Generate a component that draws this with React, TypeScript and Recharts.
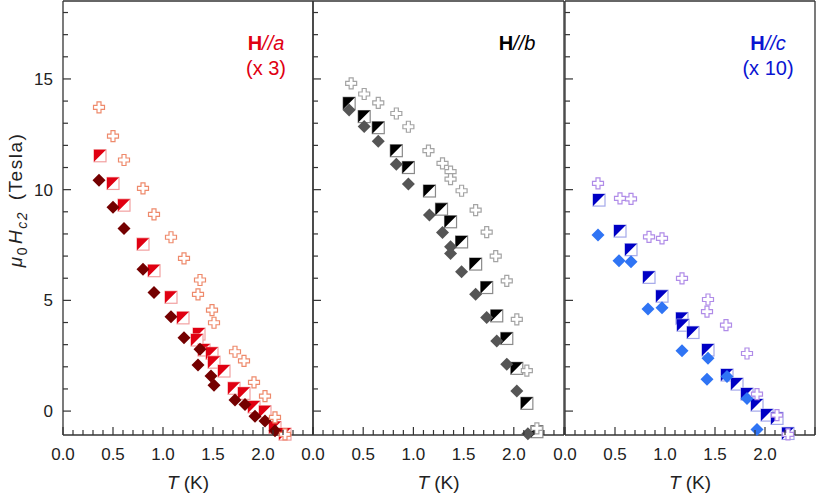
import React from 'react';
import { ScatterChart, Scatter, XAxis, YAxis, Label } from 'recharts';

// Upper critical field vs temperature, three field directions.
// h is read in the units of the printed tick labels.

type Pt = { t: number; h: number };

// ---- H // a (values shown x 3) ----
const A_CROSS: Pt[] = [
  { t: 0.36, h: 13.72 }, { t: 0.5, h: 12.42 }, { t: 0.61, h: 11.34 }, { t: 0.8, h: 10.06 },
  { t: 0.91, h: 8.88 }, { t: 1.08, h: 7.85 }, { t: 1.21, h: 6.9 }, { t: 1.37, h: 5.92 },
  { t: 1.35, h: 5.27 }, { t: 1.49, h: 4.56 }, { t: 1.51, h: 3.99 }, { t: 1.72, h: 2.68 },
  { t: 1.81, h: 2.27 }, { t: 1.91, h: 1.3 }, { t: 2.02, h: 0.68 }, { t: 2.12, h: -0.28 },
  { t: 2.22, h: -1.05 },
];
const A_SQUARE: Pt[] = [
  { t: 0.37, h: 11.53 }, { t: 0.5, h: 10.28 }, { t: 0.61, h: 9.3 }, { t: 0.8, h: 7.54 },
  { t: 0.91, h: 6.34 }, { t: 1.08, h: 5.14 }, { t: 1.2, h: 4.21 }, { t: 1.36, h: 3.48 },
  { t: 1.34, h: 3.21 }, { t: 1.41, h: 2.76 }, { t: 1.49, h: 2.61 }, { t: 1.51, h: 2.21 },
  { t: 1.61, h: 1.81 }, { t: 1.71, h: 1.03 }, { t: 1.81, h: 0.8 }, { t: 1.91, h: 0.19 },
  { t: 2.02, h: -0.03 }, { t: 2.12, h: -0.74 }, { t: 2.22, h: -1.04 },
];
const A_DIAMOND: Pt[] = [
  { t: 0.36, h: 10.43 }, { t: 0.5, h: 9.2 }, { t: 0.61, h: 8.25 }, { t: 0.8, h: 6.4 },
  { t: 0.91, h: 5.36 }, { t: 1.08, h: 4.26 }, { t: 1.21, h: 3.31 }, { t: 1.37, h: 2.79 },
  { t: 1.35, h: 2.08 }, { t: 1.48, h: 1.58 }, { t: 1.51, h: 1.17 }, { t: 1.72, h: 0.5 },
  { t: 1.82, h: 0.3 }, { t: 1.92, h: -0.23 }, { t: 2.02, h: -0.45 }, { t: 2.12, h: -0.89 },
];

// ---- H // b ----
const B_CROSS: Pt[] = [
  { t: 0.38, h: 14.8 }, { t: 0.51, h: 14.32 }, { t: 0.65, h: 13.92 }, { t: 0.83, h: 13.44 },
  { t: 0.95, h: 12.84 }, { t: 1.15, h: 11.76 }, { t: 1.29, h: 11.19 }, { t: 1.37, h: 10.81 },
  { t: 1.37, h: 10.48 }, { t: 1.48, h: 9.95 }, { t: 1.62, h: 9.08 }, { t: 1.73, h: 8.08 },
  { t: 1.82, h: 7.0 }, { t: 1.93, h: 5.88 }, { t: 2.03, h: 4.14 }, { t: 2.13, h: 1.83 },
  { t: 2.23, h: -0.78 },
];
const B_SQUARE: Pt[] = [
  { t: 0.36, h: 13.9 }, { t: 0.51, h: 13.3 }, { t: 0.65, h: 12.8 }, { t: 0.83, h: 11.76 },
  { t: 0.95, h: 11.0 }, { t: 1.16, h: 9.94 }, { t: 1.28, h: 9.12 }, { t: 1.37, h: 8.55 },
  { t: 1.48, h: 7.64 }, { t: 1.62, h: 6.64 }, { t: 1.73, h: 5.58 }, { t: 1.83, h: 4.3 },
  { t: 1.93, h: 3.28 }, { t: 2.03, h: 1.93 }, { t: 2.13, h: 0.35 }, { t: 2.23, h: -0.93 },
];
const B_DIAMOND: Pt[] = [
  { t: 0.36, h: 13.6 }, { t: 0.51, h: 12.85 }, { t: 0.65, h: 12.19 }, { t: 0.83, h: 11.15 },
  { t: 0.95, h: 10.25 }, { t: 1.16, h: 8.85 }, { t: 1.29, h: 8.07 }, { t: 1.37, h: 7.42 },
  { t: 1.37, h: 7.12 }, { t: 1.48, h: 6.29 }, { t: 1.62, h: 5.28 }, { t: 1.73, h: 4.23 },
  { t: 1.83, h: 3.16 }, { t: 1.93, h: 2.12 }, { t: 2.03, h: 0.91 }, { t: 2.14, h: -1.02 },
];

// ---- H // c (values shown x 10) ----
const C_CROSS: Pt[] = [
  { t: 0.33, h: 10.28 }, { t: 0.55, h: 9.61 }, { t: 0.66, h: 9.58 }, { t: 0.84, h: 7.87 },
  { t: 0.97, h: 7.8 }, { t: 1.17, h: 5.99 }, { t: 1.43, h: 5.04 }, { t: 1.42, h: 4.49 },
  { t: 1.61, h: 3.88 }, { t: 1.82, h: 2.6 }, { t: 1.92, h: 0.77 }, { t: 2.12, h: -0.18 },
  { t: 2.23, h: -1.05 },
];
const C_SQUARE: Pt[] = [
  { t: 0.34, h: 9.53 }, { t: 0.55, h: 8.13 }, { t: 0.66, h: 7.29 }, { t: 0.84, h: 6.04 },
  { t: 0.97, h: 5.19 }, { t: 1.17, h: 4.18 }, { t: 1.18, h: 3.88 }, { t: 1.28, h: 3.55 },
  { t: 1.43, h: 2.76 }, { t: 1.62, h: 1.63 }, { t: 1.72, h: 1.22 }, { t: 1.82, h: 0.77 },
  { t: 1.92, h: 0.27 }, { t: 2.02, h: -0.18 }, { t: 2.12, h: -0.33 }, { t: 2.23, h: -1.01 },
];
const C_DIAMOND: Pt[] = [
  { t: 0.33, h: 7.95 }, { t: 0.54, h: 6.79 }, { t: 0.66, h: 6.74 }, { t: 0.83, h: 4.61 },
  { t: 0.97, h: 4.67 }, { t: 1.17, h: 2.73 }, { t: 1.43, h: 2.39 }, { t: 1.42, h: 1.44 },
  { t: 1.62, h: 1.56 }, { t: 1.82, h: 0.57 }, { t: 1.92, h: -0.83 },
];

// axes
const X_DOMAIN: [number, number] = [0, 2.5];
const Y_DOMAIN: [number, number] = [-1.08, 18.52];
const X_LABELS = [0, 0.5, 1, 1.5, 2];
const Y_LABELS = [0, 5, 10, 15];
const X_TICKS = Array.from({ length: 26 }, (_, i) => i / 10);
const Y_TICKS = Array.from({ length: 19 }, (_, i) => i);

const FONT = '"Liberation Sans", Arial, Helvetica, sans-serif';
const AXIS = '#333';

const isMajorX = (v: number) => Math.abs(v * 2 - Math.round(v * 2)) < 1e-6;

// ---- markers ----
const Cross = ({ cx, cy, color }: any) => {
  const h = 5.5;
  const a = 2;
  const d = `M${cx - a},${cy - h}H${cx + a}V${cy - a}H${cx + h}V${cy + a}H${cx + a}V${cy + h}H${cx - a}V${cy + a}H${cx - h}V${cy - a}H${cx - a}Z`;
  return <path d={d} fill="#fff" stroke={color} strokeWidth={1.2} />;
};

const HalfSquare = ({ cx, cy, dark, light }: any) => {
  const s = 6;
  return (
    <g>
      <rect x={cx - s} y={cy - s} width={2 * s} height={2 * s} fill="#fff" stroke={light} strokeWidth={1.2} />
      <path d={`M${cx - s},${cy - s}H${cx + s}L${cx - s},${cy + s}Z`} fill={dark} />
    </g>
  );
};

const Diamond = ({ cx, cy, color }: any) => {
  const r = 6.5;
  return <path d={`M${cx},${cy - r}L${cx + r},${cy}L${cx},${cy + r}L${cx - r},${cy}Z`} fill={color} />;
};

// ---- tick renderers (ticks point into the plot) ----
const leftTick = (showLabel: boolean) => (p: any) => {
  const v = p.payload.value;
  const major = Y_LABELS.includes(v);
  return (
    <g>
      <line x1={p.x} x2={p.x + (major ? 8 : 5)} y1={p.y} y2={p.y} stroke={AXIS} strokeWidth={1.2} />
      {showLabel && major && (
        <text x={p.x - 10} y={p.y + 6} textAnchor="end" fontSize={17} fontFamily={FONT} fill="#222">
          {v}
        </text>
      )}
    </g>
  );
};

const rightTick = (p: any) => {
  const major = Y_LABELS.includes(p.payload.value);
  return <line x1={p.x} x2={p.x - (major ? 8 : 5)} y1={p.y} y2={p.y} stroke={AXIS} strokeWidth={1.2} />;
};

const bottomTick = (p: any) => {
  const v = p.payload.value;
  const major = isMajorX(v);
  const lab = X_LABELS.some((l) => Math.abs(l - v) < 1e-6);
  return (
    <g>
      <line x1={p.x} x2={p.x} y1={p.y} y2={p.y - (major ? 8 : 5)} stroke={AXIS} strokeWidth={1.2} />
      {lab && (
        <text x={p.x} y={p.y + 25} textAnchor="middle" fontSize={17} fontFamily={FONT} fill="#222">
          {v.toFixed(1)}
        </text>
      )}
    </g>
  );
};

const topTick = (p: any) => {
  const major = isMajorX(p.payload.value);
  return <line x1={p.x} x2={p.x} y1={p.y} y2={p.y + (major ? 8 : 5)} stroke={AXIS} strokeWidth={1.2} />;
};

// ---- titles ----
const xTitle = (props: any) => {
  const { x, y, width } = props.viewBox;
  return (
    <text x={x + width / 2} y={y + 54} textAnchor="middle" fontSize={19} fontFamily={FONT} fill="#222">
      <tspan fontStyle="italic">T</tspan>
      <tspan> (K)</tspan>
    </text>
  );
};

const yTitle = () => (
  <text
    transform="translate(22,200) rotate(-90)"
    textAnchor="middle"
    fontSize={19}
    fontFamily={FONT}
    letterSpacing={1.5}
    fill="#222"
  >
    <tspan fontStyle="italic">μ</tspan>
    <tspan fontSize={14} dy={5}>0</tspan>
    <tspan fontStyle="italic" dy={-5} dx={2}>H</tspan>
    <tspan fontStyle="italic" fontSize={14} dy={5}>c2</tspan>
    <tspan dy={-5} dx={4}> (Tesla)</tspan>
  </text>
);

const panelTitle = (axis: string, factor: string | null, color: string) => (props: any) => {
  const { x, y, width } = props.viewBox;
  const cx = x + width - 47;
  return (
    <g fontFamily={FONT} fontSize={20} fill={color}>
      <text x={cx} y={y + 50} textAnchor="middle">
        <tspan fontWeight="bold">H</tspan>
        <tspan fontStyle="italic">//{axis}</tspan>
      </text>
      {factor && (
        <text x={cx} y={y + 75} textAnchor="middle">
          {factor}
        </text>
      )}
    </g>
  );
};

interface PanelProps {
  left: number;
  width: number;
  margin: { top: number; right: number; bottom: number; left: number };
  cross: Pt[];
  square: Pt[];
  diamond: Pt[];
  colors: { cross: string; dark: string; light: string; diamond: string };
  axisName: string;
  factor: string | null;
  titleColor: string;
  first?: boolean;
}

const Panel = (p: PanelProps) => (
  <div style={{ position: 'absolute', left: p.left, top: 0 }}>
    <ScatterChart width={p.width} height={495} margin={p.margin}>
      <XAxis
        xAxisId="b"
        type="number"
        dataKey="t"
        domain={X_DOMAIN}
        ticks={X_TICKS}
        interval={0}
        height={1}
        tickSize={0}
        tickMargin={0}
        tickLine={false}
        tick={bottomTick}
        axisLine={{ stroke: AXIS, strokeWidth: 1.3 }}
      >
        <Label content={xTitle} />
      </XAxis>
      <XAxis
        xAxisId="t"
        orientation="top"
        type="number"
        domain={X_DOMAIN}
        ticks={X_TICKS}
        interval={0}
        height={1}
        tickSize={0}
        tickMargin={0}
        tickLine={false}
        tick={topTick}
        axisLine={{ stroke: AXIS, strokeWidth: 1.3 }}
      >
        <Label content={panelTitle(p.axisName, p.factor, p.titleColor)} />
      </XAxis>
      <YAxis
        yAxisId="l"
        type="number"
        dataKey="h"
        domain={Y_DOMAIN}
        ticks={Y_TICKS}
        interval={0}
        width={1}
        tickSize={0}
        tickMargin={0}
        tickLine={false}
        tick={leftTick(!!p.first)}
        axisLine={{ stroke: AXIS, strokeWidth: 1.3 }}
      >
        {p.first && <Label content={yTitle} />}
      </YAxis>
      <YAxis
        yAxisId="r"
        orientation="right"
        type="number"
        domain={Y_DOMAIN}
        ticks={Y_TICKS}
        interval={0}
        width={1}
        tickSize={0}
        tickMargin={0}
        tickLine={false}
        tick={rightTick}
        axisLine={{ stroke: AXIS, strokeWidth: 1.3 }}
      />
      <Scatter
        xAxisId="b"
        yAxisId="l"
        data={p.square}
        isAnimationActive={false}
        shape={(s: any) => <HalfSquare cx={s.cx} cy={s.cy} dark={p.colors.dark} light={p.colors.light} />}
      />
      <Scatter
        xAxisId="b"
        yAxisId="l"
        data={p.diamond}
        isAnimationActive={false}
        shape={(s: any) => <Diamond cx={s.cx} cy={s.cy} color={p.colors.diamond} />}
      />
      <Scatter
        xAxisId="b"
        yAxisId="l"
        data={p.cross}
        isAnimationActive={false}
        shape={(s: any) => <Cross cx={s.cx} cy={s.cy} color={p.colors.cross} />}
      />
    </ScatterChart>
  </div>
);

export default function App() {
  return (
    <div style={{ position: 'absolute', left: 0, top: 0, width: 817, height: 495, background: '#fff' }}>
      <Panel
        first
        left={0}
        width={320}
        margin={{ top: 0, right: 6, bottom: 59, left: 62 }}
        cross={A_CROSS}
        square={A_SQUARE}
        diamond={A_DIAMOND}
        colors={{ cross: '#ee8a6c', dark: '#e00012', light: '#f2a0a0', diamond: '#740000' }}
        axisName="a"
        factor="(x 3)"
        titleColor="#e00012"
      />
      <Panel
        left={300}
        width={271}
        margin={{ top: 0, right: 6, bottom: 59, left: 12 }}
        cross={B_CROSS}
        square={B_SQUARE}
        diamond={B_DIAMOND}
        colors={{ cross: '#a4a4a4', dark: '#000000', light: '#8a8a8a', diamond: '#555555' }}
        axisName="b"
        factor={null}
        titleColor="#000000"
      />
      <Panel
        left={552}
        width={265}
        margin={{ top: 0, right: 1, bottom: 59, left: 12 }}
        cross={C_CROSS}
        square={C_SQUARE}
        diamond={C_DIAMOND}
        colors={{ cross: '#b08ce8', dark: '#0000c4', light: '#a4a8ea', diamond: '#2f74f4' }}
        axisName="c"
        factor="(x 10)"
        titleColor="#0a14d2"
      />
    </div>
  );
}
